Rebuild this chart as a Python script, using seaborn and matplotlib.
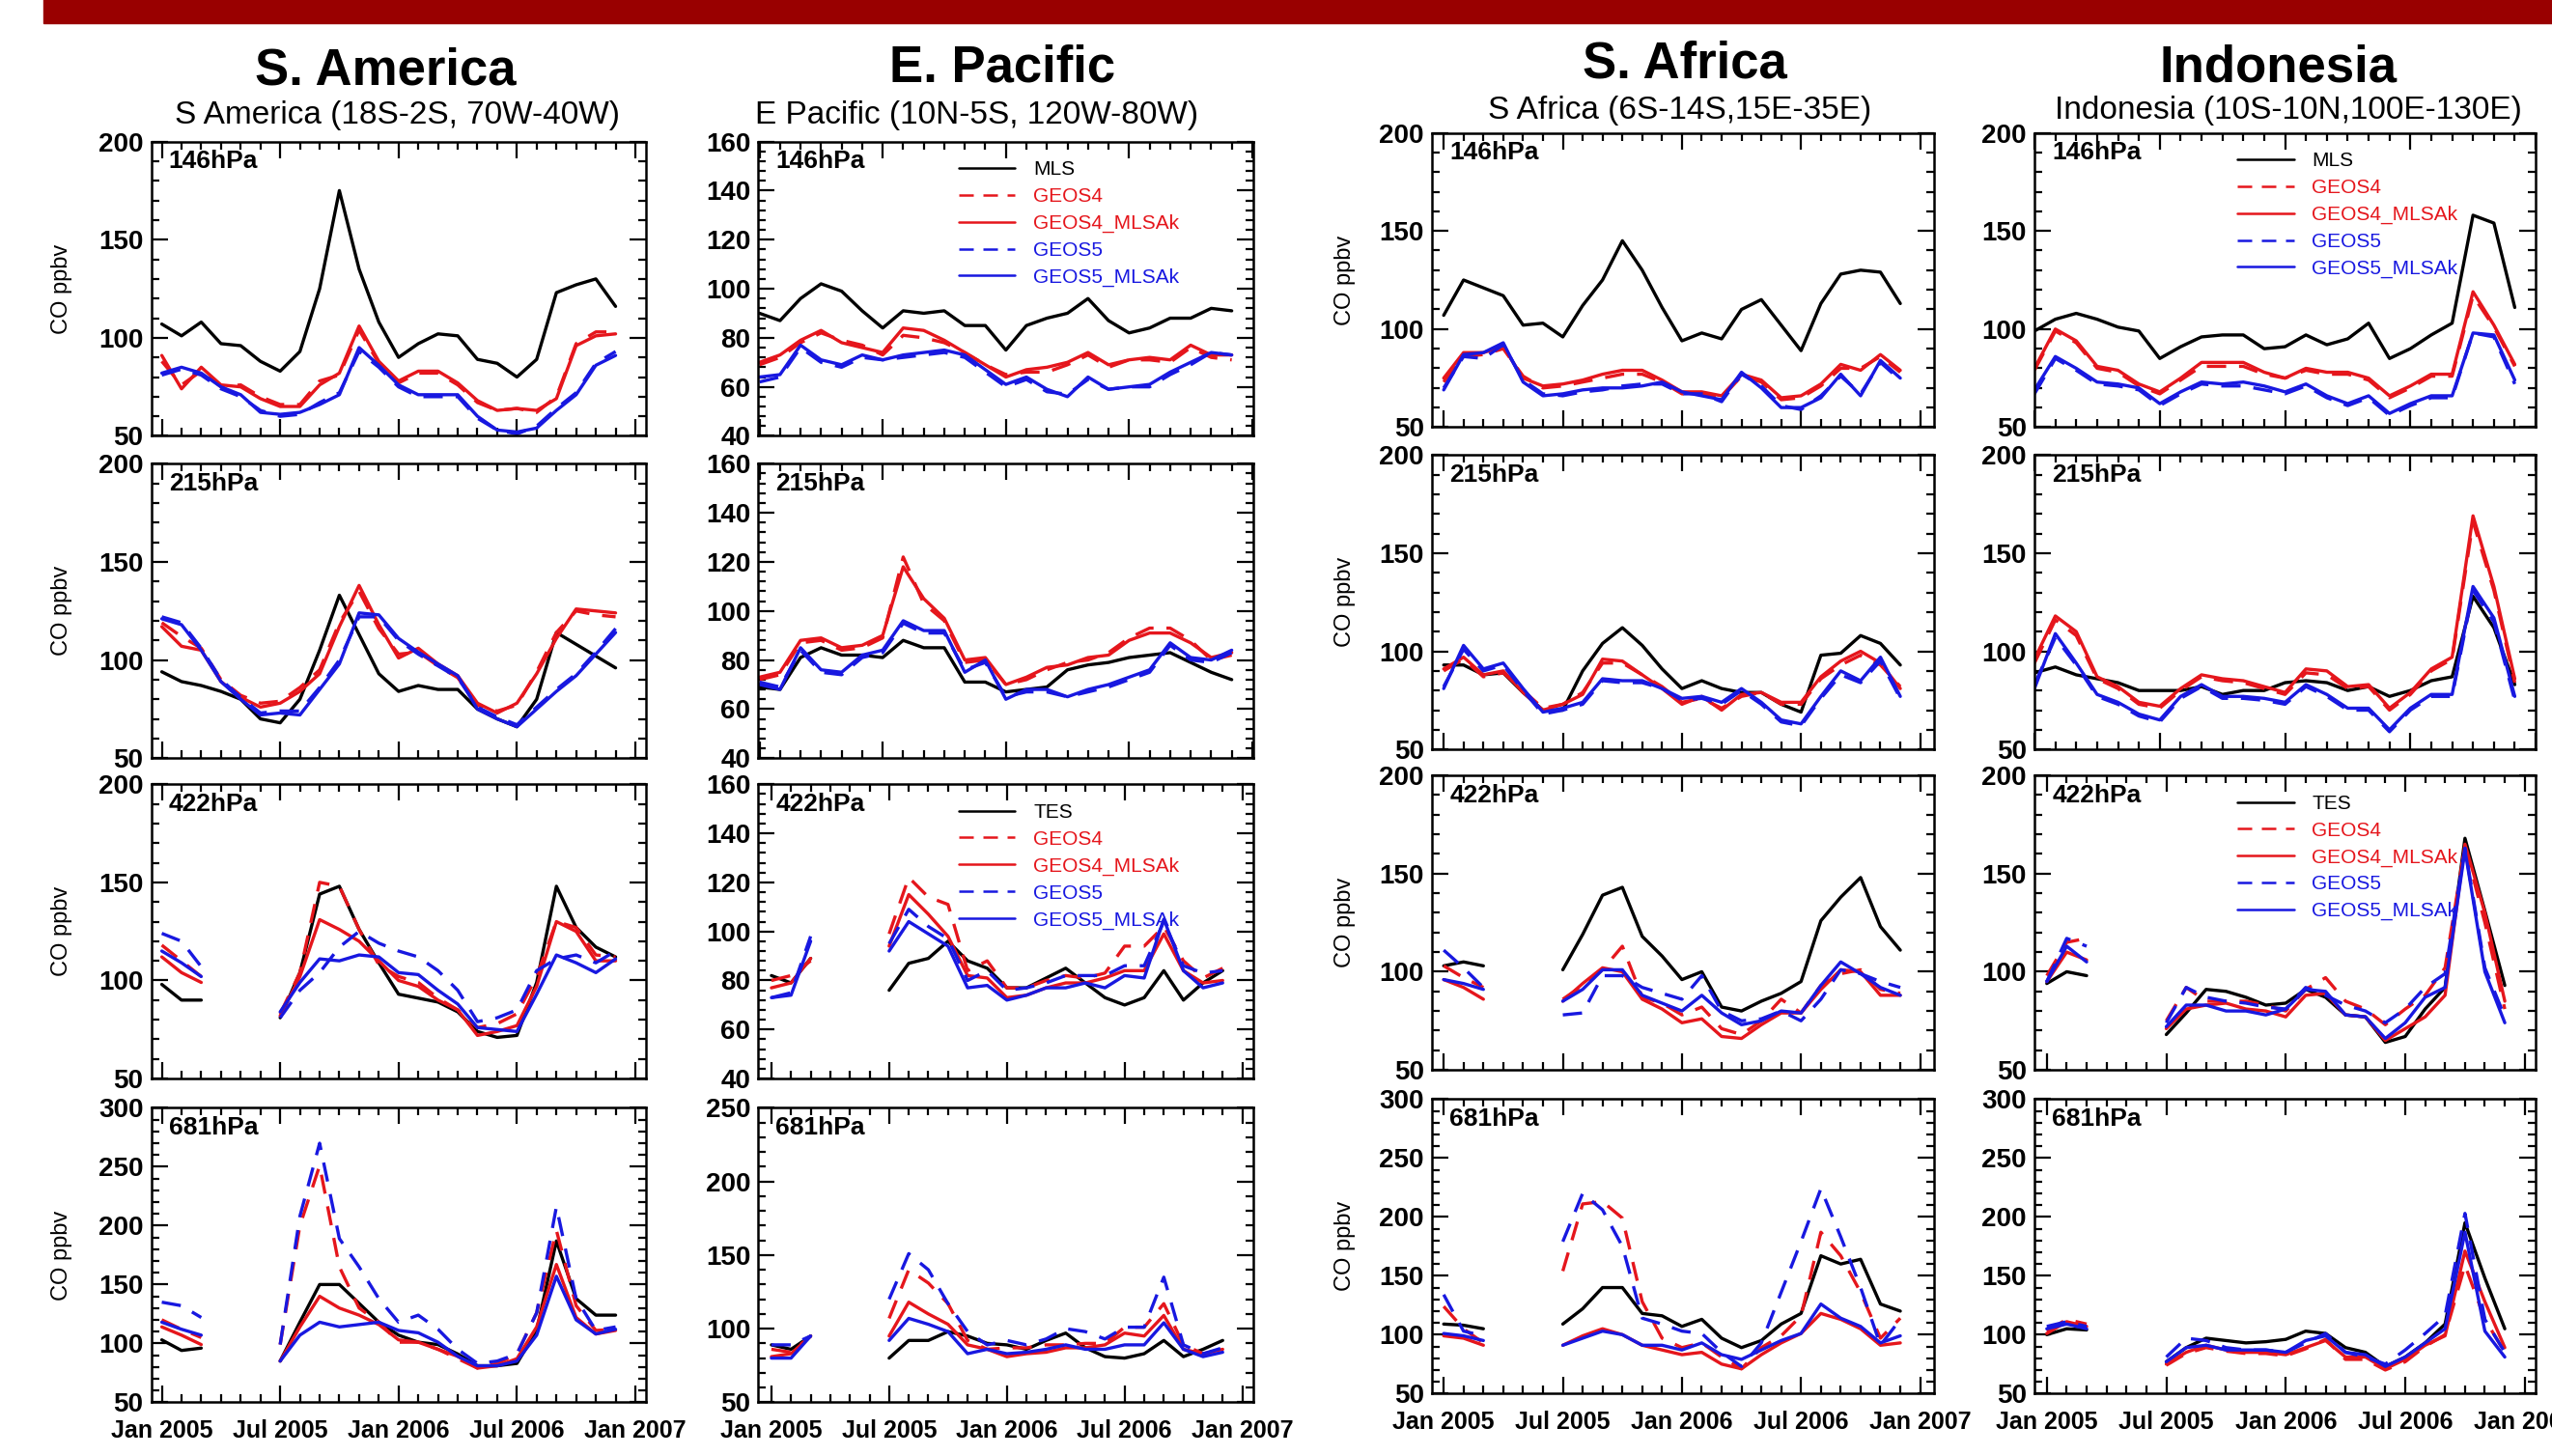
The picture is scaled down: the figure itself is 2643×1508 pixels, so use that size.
import numpy as np
import pandas as pd
import seaborn as sns
import matplotlib.pyplot as plt
from matplotlib.lines import Line2D
from matplotlib.patches import Rectangle
from matplotlib.ticker import MultipleLocator, AutoMinorLocator

nan = np.nan

# monthly index: 0 = Jan 2005 ... 23 = Dec 2006
months = np.arange(24)
tick_months = [0, 6, 12, 18, 24]
tick_labels = ['Jan 2005', 'Jul 2005', 'Jan 2006', 'Jul 2006', 'Jan 2007']

regions = ['S. America', 'E. Pacific', 'S. Africa', 'Indonesia']
subtitles = ['S America (18S-2S, 70W-40W)', 'E Pacific (10N-5S, 120W-80W)',
             'S Africa (6S-14S,15E-35E)', 'Indonesia (10S-10N,100E-130E)']
levels = ['146hPa', '215hPa', '422hPa', '681hPa']
series = ['obs', 'GEOS4', 'GEOS4_MLSAk', 'GEOS5', 'GEOS5_MLSAk']
legend_mls = ['MLS', 'GEOS4', 'GEOS4_MLSAk', 'GEOS5', 'GEOS5_MLSAk']
legend_tes = ['TES', 'GEOS4', 'GEOS4_MLSAk', 'GEOS5', 'GEOS5_MLSAk']

# ---- S. America ----
sam_146_obs = [107, 101, 108, 97, 96, 88, 83, 93, 125, 175, 135, 108, 90, 97, 102, 101, 89, 87, 80, 89, 123, 127, 130, 116]
sam_146_g4 = [88, 76, 83, 75, 76, 70, 66, 66, 78, 81, 104, 87, 77, 82, 82, 76, 67, 63, 64, 62, 70, 97, 103, 103]
sam_146_g4ak = [91, 74, 85, 76, 75, 69, 65, 65, 76, 82, 106, 88, 78, 83, 83, 77, 68, 63, 64, 63, 69, 96, 101, 102]
sam_146_g5 = [81, 84, 81, 74, 70, 63, 60, 61, 67, 72, 93, 85, 75, 70, 70, 70, 59, 53, 51, 55, 64, 72, 87, 93]
sam_146_g5ak = [82, 85, 82, 75, 71, 62, 61, 62, 66, 71, 95, 86, 76, 71, 71, 71, 60, 53, 52, 54, 63, 71, 86, 91]

sam_215_obs = [94, 89, 87, 84, 80, 70, 68, 80, 105, 133, 113, 93, 84, 87, 85, 85, 75, 70, 66, 80, 114, 108, 102, 96]
sam_215_g4 = [119, 112, 106, 90, 82, 78, 79, 86, 95, 119, 135, 116, 103, 104, 97, 91, 77, 74, 77, 94, 114, 125, 123, 122]
sam_215_g4ak = [117, 107, 105, 89, 81, 76, 78, 84, 93, 117, 138, 118, 101, 106, 98, 92, 78, 73, 78, 93, 111, 126, 125, 124]
sam_215_g5 = [122, 119, 106, 90, 81, 73, 74, 74, 86, 100, 122, 122, 110, 103, 97, 91, 76, 71, 67, 76, 85, 93, 104, 116]
sam_215_g5ak = [121, 118, 105, 89, 80, 72, 73, 72, 85, 98, 124, 123, 111, 104, 98, 92, 75, 70, 66, 75, 84, 92, 103, 114]

sam_422_obs = [98, 90, 90, nan, nan, nan, 81, 104, 144, 148, 126, 109, 93, 91, 89, 84, 74, 71, 72, 99, 148, 127, 117, 112]
sam_422_g4 = [118, 110, 102, nan, nan, nan, 83, 104, 150, 148, 126, 108, 102, 99, 91, 85, 76, 78, 83, 102, 130, 127, 113, 112]
sam_422_g4ak = [112, 104, 99, nan, nan, nan, 82, 102, 131, 126, 120, 110, 100, 97, 90, 85, 72, 74, 77, 97, 130, 125, 110, 110]
sam_422_g5 = [124, 120, 107, nan, nan, nan, 81, 95, 104, 117, 125, 119, 115, 112, 105, 95, 79, 81, 85, 105, 111, 113, 109, 115]
sam_422_g5ak = [115, 109, 102, nan, nan, nan, 84, 99, 111, 110, 113, 112, 104, 103, 95, 88, 76, 75, 74, 93, 113, 109, 104, 111]

sam_681_obs = [103, 94, 96, nan, nan, nan, 85, 118, 150, 150, 134, 118, 107, 101, 99, 91, 81, 81, 83, 111, 187, 138, 124, 124]
sam_681_g4 = [120, 112, 105, nan, nan, nan, 99, 200, 251, 165, 130, 118, 101, 101, 95, 87, 79, 83, 91, 126, 196, 132, 111, 112]
sam_681_g4ak = [114, 107, 99, nan, nan, nan, 85, 114, 140, 130, 124, 116, 103, 101, 95, 89, 79, 81, 87, 114, 167, 122, 108, 111]
sam_681_g5 = [135, 132, 122, nan, nan, nan, 99, 208, 270, 189, 165, 138, 118, 124, 112, 95, 83, 85, 91, 126, 216, 138, 111, 114]
sam_681_g5ak = [118, 112, 107, nan, nan, nan, 85, 107, 118, 114, 116, 118, 111, 109, 101, 89, 81, 81, 85, 107, 157, 120, 108, 112]

# ---- E. Pacific ----
epa_146_obs = [90, 87, 96, 102, 99, 91, 84, 91, 90, 91, 85, 85, 75, 85, 88, 90, 96, 87, 82, 84, 88, 88, 92, 91]
epa_146_g4 = [69, 72, 78, 82, 79, 77, 73, 81, 80, 78, 74, 69, 65, 66, 66, 69, 73, 68, 71, 71, 70, 76, 72, 71]
epa_146_g4ak = [70, 73, 79, 83, 78, 76, 74, 84, 83, 79, 74, 69, 64, 67, 68, 70, 74, 69, 71, 72, 71, 77, 73, 73]
epa_146_g5 = [62, 64, 76, 70, 68, 72, 71, 72, 73, 74, 72, 66, 60, 63, 58, 57, 63, 59, 60, 60, 65, 69, 74, 73]
epa_146_g5ak = [64, 65, 77, 71, 69, 73, 71, 73, 74, 75, 73, 67, 61, 64, 59, 56, 64, 59, 60, 61, 66, 70, 74, 73]

epa_215_obs = [69, 68, 81, 85, 82, 82, 81, 88, 85, 85, 71, 71, 67, 68, 69, 76, 78, 79, 81, 82, 83, 79, 75, 72]
epa_215_g4 = [72, 74, 87, 88, 84, 85, 89, 122, 103, 96, 79, 80, 70, 72, 76, 79, 80, 83, 89, 93, 93, 88, 80, 82]
epa_215_g4ak = [73, 75, 88, 89, 85, 86, 90, 118, 105, 97, 80, 81, 70, 73, 77, 78, 81, 82, 88, 91, 91, 87, 81, 83]
epa_215_g5 = [71, 69, 84, 75, 74, 81, 83, 95, 91, 91, 76, 79, 65, 67, 67, 65, 67, 69, 72, 75, 86, 80, 79, 83]
epa_215_g5ak = [70, 68, 85, 76, 75, 82, 84, 96, 92, 92, 75, 80, 64, 68, 68, 65, 68, 70, 73, 76, 87, 81, 80, 84]

epa_422_obs = [82, 79, 89, nan, nan, nan, 76, 87, 89, 96, 88, 85, 77, 77, 81, 85, 79, 73, 70, 73, 84, 72, 79, 84]
epa_422_g4 = [80, 82, 88, nan, nan, nan, 99, 122, 114, 111, 84, 88, 77, 77, 80, 82, 81, 83, 94, 94, 102, 88, 81, 85]
epa_422_g4ak = [77, 79, 89, nan, nan, nan, 94, 115, 107, 98, 82, 81, 73, 74, 77, 79, 79, 81, 84, 84, 99, 84, 79, 80]
epa_422_g5 = [73, 75, 98, nan, nan, nan, 95, 109, 102, 97, 80, 84, 76, 77, 79, 82, 82, 82, 86, 86, 104, 86, 83, 84]
epa_422_g5ak = [73, 74, 96, nan, nan, nan, 92, 104, 99, 94, 77, 78, 72, 74, 77, 77, 79, 77, 82, 81, 105, 84, 77, 79]

epa_681_obs = [89, 86, 95, nan, nan, nan, 80, 92, 92, 98, 95, 90, 89, 86, 92, 97, 87, 81, 80, 83, 92, 81, 86, 92]
epa_681_g4 = [86, 84, 95, nan, nan, nan, 107, 140, 131, 117, 92, 86, 87, 87, 89, 89, 90, 90, 101, 101, 117, 89, 83, 84]
epa_681_g4ak = [81, 83, 95, nan, nan, nan, 95, 118, 110, 103, 89, 86, 81, 83, 84, 87, 87, 89, 97, 95, 109, 86, 83, 86]
epa_681_g5 = [89, 89, 95, nan, nan, nan, 120, 151, 140, 117, 98, 89, 92, 89, 93, 100, 98, 93, 101, 101, 135, 89, 83, 87]
epa_681_g5ak = [80, 80, 95, nan, nan, nan, 92, 107, 103, 98, 83, 86, 83, 84, 86, 89, 86, 86, 89, 89, 104, 86, 81, 84]

# ---- S. Africa ----
saf_146_obs = [107, 125, 121, 117, 102, 103, 96, 112, 125, 145, 130, 111, 94, 98, 95, 110, 115, 102, 89, 113, 128, 130, 129, 113]
saf_146_g4 = [73, 86, 87, 90, 76, 70, 71, 73, 75, 77, 77, 73, 67, 67, 65, 76, 73, 64, 65, 71, 80, 80, 86, 78]
saf_146_g4ak = [75, 88, 88, 91, 75, 71, 72, 74, 77, 79, 79, 74, 68, 68, 66, 77, 74, 65, 66, 72, 82, 79, 87, 79]
saf_146_g5 = [70, 86, 85, 92, 74, 67, 66, 68, 69, 71, 72, 72, 67, 67, 63, 77, 71, 61, 59, 66, 76, 67, 83, 74]
saf_146_g5ak = [69, 87, 88, 93, 73, 66, 67, 69, 70, 70, 71, 73, 68, 66, 64, 78, 70, 60, 60, 65, 77, 66, 84, 75]

saf_215_obs = [93, 93, 88, 89, 79, 70, 70, 90, 104, 112, 103, 91, 81, 85, 81, 79, 79, 73, 69, 98, 99, 108, 104, 93]
saf_215_g4 = [90, 96, 87, 89, 80, 71, 73, 79, 94, 94, 88, 82, 74, 76, 71, 77, 79, 73, 73, 86, 93, 98, 93, 82]
saf_215_g4ak = [91, 97, 88, 90, 79, 70, 73, 78, 96, 95, 88, 81, 73, 77, 70, 78, 79, 74, 74, 87, 95, 100, 94, 81]
saf_215_g5 = [82, 101, 90, 93, 80, 68, 70, 73, 85, 84, 84, 81, 75, 76, 73, 80, 73, 64, 62, 76, 88, 84, 95, 76]
saf_215_g5ak = [81, 103, 91, 94, 81, 69, 71, 74, 86, 85, 85, 81, 76, 77, 74, 81, 74, 65, 63, 77, 90, 85, 97, 77]

saf_422_obs = [103, 105, 103, nan, nan, nan, 101, 119, 139, 143, 118, 108, 96, 100, 82, 80, 85, 89, 95, 126, 138, 148, 123, 111]
saf_422_g4 = [103, 97, 92, nan, nan, nan, 86, 93, 101, 113, 87, 84, 78, 82, 71, 68, 75, 86, 79, 93, 99, 101, 91, 89]
saf_422_g4ak = [96, 92, 86, nan, nan, nan, 85, 94, 102, 100, 86, 81, 74, 76, 67, 66, 73, 79, 79, 91, 101, 100, 88, 88]
saf_422_g5 = [111, 102, 92, nan, nan, nan, 78, 79, 98, 98, 92, 89, 86, 98, 80, 75, 76, 80, 75, 86, 101, 99, 95, 92]
saf_422_g5ak = [96, 94, 91, nan, nan, nan, 85, 91, 101, 101, 88, 84, 80, 88, 79, 73, 75, 80, 79, 93, 105, 99, 92, 88]

saf_681_obs = [109, 108, 105, nan, nan, nan, 109, 122, 140, 140, 118, 116, 107, 113, 97, 89, 95, 109, 118, 167, 160, 164, 126, 120]
saf_681_g4 = [124, 105, 93, nan, nan, nan, 154, 211, 213, 199, 128, 97, 89, 93, 81, 71, 89, 99, 116, 187, 167, 136, 97, 114]
saf_681_g4ak = [99, 97, 91, nan, nan, nan, 91, 99, 105, 100, 91, 87, 83, 85, 75, 71, 83, 93, 101, 118, 113, 105, 91, 93]
saf_681_g5 = [134, 103, 99, nan, nan, nan, 179, 220, 206, 175, 114, 109, 103, 101, 85, 73, 93, 136, 179, 224, 183, 140, 91, 113]
saf_681_g5ak = [101, 99, 95, nan, nan, nan, 91, 97, 103, 100, 91, 91, 87, 93, 83, 79, 87, 95, 101, 126, 114, 107, 93, 99]

# ---- Indonesia ----
ind_146_obs = [99, 105, 108, 105, 101, 99, 85, 91, 96, 97, 97, 90, 91, 97, 92, 95, 103, 85, 90, 97, 103, 158, 154, 111]
ind_146_g4 = [79, 99, 93, 80, 78, 71, 67, 74, 81, 81, 81, 77, 75, 79, 77, 77, 74, 65, 70, 76, 76, 117, 101, 81]
ind_146_g4ak = [80, 100, 94, 81, 79, 72, 68, 75, 83, 83, 83, 78, 75, 80, 78, 78, 75, 66, 71, 77, 77, 119, 102, 82]
ind_146_g5 = [67, 85, 79, 72, 71, 69, 61, 67, 72, 71, 71, 69, 67, 71, 65, 61, 65, 56, 61, 65, 65, 98, 96, 72]
ind_146_g5ak = [69, 86, 80, 73, 72, 70, 62, 68, 73, 72, 73, 71, 68, 72, 66, 62, 66, 57, 62, 66, 66, 98, 97, 74]

ind_215_obs = [89, 92, 88, 86, 84, 80, 80, 80, 82, 78, 80, 80, 84, 85, 84, 80, 82, 77, 80, 85, 87, 128, 112, 83]
ind_215_g4 = [94, 116, 108, 86, 81, 73, 71, 80, 87, 85, 84, 81, 78, 89, 88, 81, 82, 70, 78, 90, 96, 166, 131, 84]
ind_215_g4ak = [96, 118, 110, 87, 82, 74, 72, 81, 88, 86, 85, 82, 79, 91, 90, 82, 83, 71, 79, 91, 97, 169, 133, 86]
ind_215_g5 = [83, 107, 93, 77, 73, 67, 64, 76, 82, 76, 76, 75, 73, 82, 77, 70, 70, 59, 70, 77, 77, 131, 115, 75]
ind_215_g5ak = [81, 109, 94, 78, 74, 68, 65, 77, 83, 77, 77, 76, 74, 83, 78, 71, 71, 60, 71, 78, 78, 133, 117, 77]

ind_422_obs = [94, 100, 98, nan, nan, nan, 68, 79, 91, 90, 87, 83, 84, 91, 87, 78, 77, 64, 67, 81, 92, 168, 131, 93]
ind_422_g4 = [98, 115, 117, nan, nan, nan, 75, 92, 85, 85, 85, 83, 80, 91, 97, 85, 81, 73, 81, 88, 102, 164, 125, 81]
ind_422_g4ak = [95, 110, 106, nan, nan, nan, 71, 81, 83, 84, 81, 80, 77, 88, 89, 78, 77, 65, 71, 77, 88, 165, 130, 85]
ind_422_g5 = [95, 117, 113, nan, nan, nan, 74, 92, 87, 85, 84, 82, 81, 92, 88, 83, 80, 74, 81, 92, 99, 163, 102, 77]
ind_422_g5ak = [95, 113, 105, nan, nan, nan, 72, 83, 83, 80, 80, 78, 81, 91, 90, 78, 77, 66, 74, 87, 92, 162, 100, 74]

ind_681_obs = [100, 105, 104, nan, nan, nan, 77, 89, 97, 95, 93, 94, 96, 103, 101, 89, 85, 73, 81, 93, 109, 195, 148, 105]
ind_681_g4 = [103, 113, 109, nan, nan, nan, 74, 84, 89, 86, 84, 84, 82, 88, 96, 79, 79, 70, 77, 90, 100, 159, 113, 85]
ind_681_g4ak = [101, 111, 107, nan, nan, nan, 75, 85, 91, 87, 85, 85, 83, 89, 95, 81, 81, 71, 79, 91, 99, 171, 128, 89]
ind_681_g5 = [107, 111, 107, nan, nan, nan, 81, 97, 95, 89, 87, 87, 85, 93, 101, 85, 81, 75, 87, 101, 116, 203, 113, 85]
ind_681_g5ak = [105, 109, 105, nan, nan, nan, 77, 89, 91, 87, 87, 87, 85, 95, 99, 85, 83, 73, 81, 93, 105, 187, 103, 81]

panels = {
    (0, 0): [sam_146_obs, sam_146_g4, sam_146_g4ak, sam_146_g5, sam_146_g5ak],
    (0, 1): [sam_215_obs, sam_215_g4, sam_215_g4ak, sam_215_g5, sam_215_g5ak],
    (0, 2): [sam_422_obs, sam_422_g4, sam_422_g4ak, sam_422_g5, sam_422_g5ak],
    (0, 3): [sam_681_obs, sam_681_g4, sam_681_g4ak, sam_681_g5, sam_681_g5ak],
    (1, 0): [epa_146_obs, epa_146_g4, epa_146_g4ak, epa_146_g5, epa_146_g5ak],
    (1, 1): [epa_215_obs, epa_215_g4, epa_215_g4ak, epa_215_g5, epa_215_g5ak],
    (1, 2): [epa_422_obs, epa_422_g4, epa_422_g4ak, epa_422_g5, epa_422_g5ak],
    (1, 3): [epa_681_obs, epa_681_g4, epa_681_g4ak, epa_681_g5, epa_681_g5ak],
    (2, 0): [saf_146_obs, saf_146_g4, saf_146_g4ak, saf_146_g5, saf_146_g5ak],
    (2, 1): [saf_215_obs, saf_215_g4, saf_215_g4ak, saf_215_g5, saf_215_g5ak],
    (2, 2): [saf_422_obs, saf_422_g4, saf_422_g4ak, saf_422_g5, saf_422_g5ak],
    (2, 3): [saf_681_obs, saf_681_g4, saf_681_g4ak, saf_681_g5, saf_681_g5ak],
    (3, 0): [ind_146_obs, ind_146_g4, ind_146_g4ak, ind_146_g5, ind_146_g5ak],
    (3, 1): [ind_215_obs, ind_215_g4, ind_215_g4ak, ind_215_g5, ind_215_g5ak],
    (3, 2): [ind_422_obs, ind_422_g4, ind_422_g4ak, ind_422_g5, ind_422_g5ak],
    (3, 3): [ind_681_obs, ind_681_g4, ind_681_g4ak, ind_681_g5, ind_681_g5ak],
}

# y ranges per column/row
ylims = {0: [(50, 200), (50, 200), (50, 200), (50, 300)],
         1: [(40, 160), (40, 160), (40, 160), (50, 250)],
         2: [(50, 200), (50, 200), (50, 200), (50, 300)],
         3: [(50, 200), (50, 200), (50, 200), (50, 300)]}
# x ranges (the panels were cut from separate figures)
xlims = {0: [(-0.53, 24.55)] * 4,
         1: [(-0.05, 24.05)] * 2 + [(-0.66, 24.56)] * 2,
         2: [(-0.58, 24.68)] * 4,
         3: [(0.0, 24.0)] * 2 + [(-0.62, 24.55)] * 2}

RED = '#e5161c'
BLUE = '#1818e0'
palette = {'obs': 'black', 'GEOS4': RED, 'GEOS4_MLSAk': RED, 'GEOS5': BLUE, 'GEOS5_MLSAk': BLUE}
dashes = {'obs': '', 'GEOS4': (6, 4), 'GEOS4_MLSAk': '', 'GEOS5': (6, 4), 'GEOS5_MLSAk': ''}

sns.set_style('ticks', {'axes.edgecolor': 'black', 'xtick.color': 'black', 'ytick.color': 'black',
                        'text.color': 'black', 'axes.labelcolor': 'black'})
plt.rcParams['font.family'] = ['Liberation Sans', 'DejaVu Sans']

fig = plt.figure(figsize=(26.43, 15.08), dpi=100)

# red banner across the top
fig.patches.append(Rectangle((0.0172, 0.9844), 0.99, 0.0160, transform=fig.transFigure,
                             color='#990000', zorder=0))

col_left = [0.0593, 0.2972, 0.5612, 0.7972]
col_width = [0.1939, 0.1939, 0.1965, 0.1964]
row_bottom = [0.7006, 0.4793, 0.2592, 0.0369]
col_shift = [0.0, 0.0, 0.006, 0.006]
ax_h = 0.2022

title_x = [0.1511, 0.3929, 0.6601, 0.8929]
title_y = [0.9419, 0.9441, 0.9464, 0.9441]
sub_x = [0.1556, 0.3827, 0.6582, 0.8967]
sub_y = [0.9151, 0.9151, 0.9184, 0.9184]

for c in range(4):
    fig.text(title_x[c], title_y[c], regions[c], fontsize=38, weight='bold',
             ha='center', va='baseline')
    fig.text(sub_x[c], sub_y[c], subtitles[c], fontsize=24, ha='center', va='baseline')

    for r in range(4):
        ax = fig.add_axes([col_left[c], row_bottom[r] + col_shift[c], col_width[c], ax_h])
        frames = []
        for name, vals in zip(series, panels[(c, r)]):
            v = np.asarray(vals, dtype=float)
            ok = ~np.isnan(v)
            seg = np.cumsum(~ok)
            frames.append(pd.DataFrame({'month': months[ok], 'co': v[ok],
                                        'series': name, 'seg': seg[ok]}))
        df = pd.concat(frames, ignore_index=True)
        sns.lineplot(data=df, x='month', y='co', hue='series', style='series',
                     units='seg', estimator=None, hue_order=series, style_order=series,
                     palette=palette, dashes=dashes, linewidth=2.4, legend=False, ax=ax)

        ax.set_xlim(xlims[c][r])
        ax.set_ylim(ylims[c][r])
        ax.set_xticks(tick_months)
        ax.xaxis.set_minor_locator(MultipleLocator(1))
        ystep = 20 if ylims[c][r] == (40, 160) else 50
        ax.yaxis.set_major_locator(MultipleLocator(ystep))
        ax.yaxis.set_minor_locator(AutoMinorLocator(5))
        ax.tick_params(which='both', direction='in', top=True, right=True, width=1.6)
        ax.tick_params(which='major', length=12)
        ax.tick_params(which='minor', length=6)
        ax.tick_params(axis='y', which='major', pad=6, labelsize=20)
        for lab in ax.get_yticklabels():
            lab.set_fontweight('bold')
        for sp in ax.spines.values():
            sp.set_linewidth(1.8)
            sp.set_visible(True)

        if r == 3:
            ax.set_xticklabels(tick_labels, fontsize=18, fontweight='bold')
            ax.tick_params(axis='x', which='major', pad=13)
        else:
            ax.set_xticklabels([])
        ax.set_xlabel('')

        if c in (0, 2):
            ax.set_ylabel('CO ppbv', fontsize=17)
            ax.yaxis.set_label_coords(-0.16 if c == 0 else -0.152, 0.5)
        else:
            ax.set_ylabel('')

        ax.text(0.035, 0.972, levels[r], transform=ax.transAxes, ha='left', va='top',
                fontsize=19, fontweight='bold')

        if c in (1, 3) and r in (0, 2):
            labels = legend_mls if r == 0 else legend_tes
            handles = [Line2D([], [], color=palette[s], lw=1.8,
                              dashes=(dashes[s] if dashes[s] else (None, None)))
                       for s in series]
            ax.legend(handles, labels, loc='upper left', bbox_to_anchor=(0.405, 0.935),
                      frameon=False, fontsize=15, handlelength=2.8, handletextpad=0.9,
                      labelspacing=0.42, borderpad=0, borderaxespad=0,
                      labelcolor=[palette[s] for s in series])

fig.savefig('out.png', dpi=100)
